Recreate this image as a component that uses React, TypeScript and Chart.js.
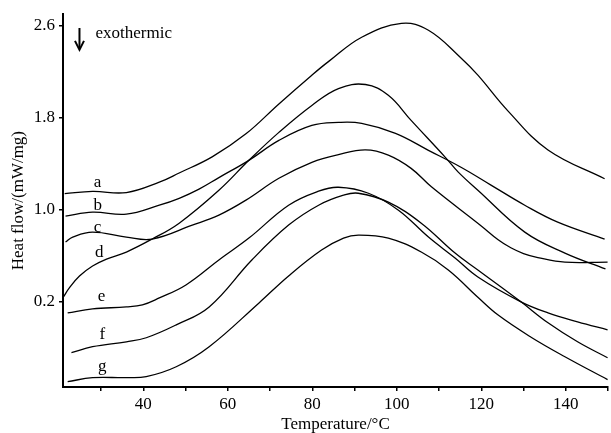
import React, { useEffect, useRef } from "react";
import { Chart, registerables } from "chart.js";

Chart.register(...registerables);

// Axis ticks
const xTicks = [30, 40, 50, 60, 70, 80, 90, 100, 110, 120, 130, 140, 150];
const xLabeled = [40, 60, 80, 100, 120, 140];
const yTicks = [0.2, 1.0, 1.8, 2.6];

// Curve a
const aT = [21.4, 28.0, 36.0, 43.8, 48.5, 56.3, 64.3, 72.1, 79.9, 83.9, 91.7, 101.1, 107.5, 115.2, 119.2, 126.3, 135.8, 149.2];
const aV = [1.14, 1.16, 1.15, 1.24, 1.32, 1.46, 1.66, 1.92, 2.17, 2.29, 2.50, 2.62, 2.56, 2.32, 2.17, 1.86, 1.52, 1.27];
// Curve b
const bT = [21.6, 28.0, 36.0, 43.8, 48.5, 53.2, 57.9, 65.0, 72.1, 79.9, 86.2, 91.7, 99.7, 107.5, 115.2, 122.3, 130.3, 138.1, 149.2];
const bV = [0.945, 0.98, 0.962, 1.04, 1.10, 1.18, 1.28, 1.43, 1.603, 1.733, 1.759, 1.751, 1.664, 1.517, 1.37, 1.215, 1.04, 0.893, 0.746];
// Curve c
const cT = [21.6, 23.3, 28.0, 36.0, 42.1, 51.6, 57.9, 64.3, 72.1, 79.9, 86.2, 92.6, 98.0, 103.4, 108.2, 120.0, 124.0, 127.0, 130.0, 133.4, 139.8, 149.9];
const cV = [0.72, 0.763, 0.806, 0.763, 0.746, 0.867, 0.954, 1.084, 1.274, 1.413, 1.48, 1.52, 1.475, 1.36, 1.20, 0.86, 0.74, 0.67, 0.62, 0.585, 0.545, 0.546];
// Curve d
const dT = [21.1, 22.5, 24.9, 28.0, 31.3, 36.0, 42.1, 48.5, 57.9, 65.0, 72.1, 79.9, 86.2, 92.6, 98.0, 103.4, 111.5, 114.5, 119.2, 130.3, 139.8, 149.4];
const dV = [0.243, 0.321, 0.425, 0.512, 0.572, 0.633, 0.746, 0.884, 1.17, 1.43, 1.673, 1.907, 2.054, 2.089, 1.995, 1.777, 1.456, 1.33, 1.17, 0.806, 0.624, 0.486];
// Curve e
const eT = [22.1, 28.0, 36.0, 39.8, 43.8, 50.1, 57.9, 65.0, 74.4, 81.5, 86.2, 93.3, 100.4, 107.5, 113.8, 119.2, 129.4, 135.8, 142.8, 149.9];
const eV = [0.104, 0.139, 0.156, 0.174, 0.234, 0.347, 0.564, 0.754, 1.04, 1.162, 1.196, 1.144, 0.997, 0.763, 0.581, 0.416, 0.2, 0.104, 0.026, -0.043];
// Curve f
const fT = [23.0, 28.0, 36.0, 40.7, 47.8, 55.6, 65.7, 74.4, 81.5, 87.4, 90.9, 98.0, 105.8, 113.8, 119.2, 129.4, 135.8, 142.8, 149.9];
const fV = [-0.242, -0.19, -0.147, -0.112, 0.0, 0.156, 0.564, 0.867, 1.04, 1.127, 1.144, 1.066, 0.884, 0.624, 0.477, 0.2, 0.018, -0.147, -0.286];
// Curve g
const gT = [22.1, 28.0, 36.0, 40.7, 47.8, 55.6, 67.4, 74.4, 82.2, 87.4, 90.9, 98.0, 105.8, 112.2, 119.2, 124.0, 131.7, 139.8, 149.9];
const gV = [-0.494, -0.459, -0.459, -0.45, -0.364, -0.19, 0.191, 0.425, 0.65, 0.754, 0.78, 0.754, 0.633, 0.477, 0.24, 0.085, -0.105, -0.277, -0.476];

// Curve labels (position in data units)
const labelNames = ["a", "b", "c", "d", "e", "f", "g"];
const labelT = [29.2, 29.2, 29.2, 29.6, 30.1, 30.3, 30.3];
const labelV = [1.24, 1.04, 0.85, 0.633, 0.243, -0.086, -0.364];

// Annotation "exothermic"
const arrowT = 24.9;
const arrowTop = 2.58;
const arrowBottom = 2.39;
const exoT = 28.7;
const exoV = 2.53;

const FONT = '"Liberation Serif", "Times New Roman", serif';

export default function App() {
  const ref = useRef<HTMLCanvasElement>(null);

  useEffect(() => {
    const canvas = ref.current;
    if (!canvas) return;
    const series = [
      [aT, aV], [bT, bV], [cT, cV], [dT, dV], [eT, eV], [fT, fV], [gT, gV],
    ];
    const datasets = series.map(([t, v], i) => ({
      label: labelNames[i],
      data: t.map((x, k) => ({ x, y: v[k] })),
      borderColor: "#000",
      borderWidth: 1.3,
      pointRadius: 0,
      fill: false,
      tension: 0.4,
    }));

    const annot = {
      id: "annot",
      afterDatasetsDraw(chart: any) {
        const { ctx, scales } = chart;
        const x = scales.x;
        const y = scales.y;
        ctx.save();
        ctx.fillStyle = "#000";
        ctx.strokeStyle = "#000";
        ctx.font = `17px ${FONT}`;
        ctx.textAlign = "center";
        ctx.textBaseline = "middle";
        labelNames.forEach((n, i) => {
          ctx.fillText(n, x.getPixelForValue(labelT[i]), y.getPixelForValue(labelV[i]));
        });
        // arrow
        const ax = x.getPixelForValue(arrowT);
        const ay1 = y.getPixelForValue(arrowTop);
        const ay2 = y.getPixelForValue(arrowBottom);
        ctx.lineWidth = 2;
        ctx.beginPath();
        ctx.moveTo(ax, ay1);
        ctx.lineTo(ax, ay2 - 1);
        ctx.stroke();
        ctx.beginPath();
        ctx.moveTo(ax - 4.5, ay2 - 9);
        ctx.lineTo(ax, ay2);
        ctx.lineTo(ax + 4.5, ay2 - 9);
        ctx.stroke();
        ctx.textAlign = "left";
        ctx.fillText("exothermic", x.getPixelForValue(exoT), y.getPixelForValue(exoV));
        ctx.restore();
      },
    };

    const chart = new Chart(canvas, {
      type: "line",
      data: { datasets },
      plugins: [annot],
      options: {
        animation: false,
        responsive: false,
        maintainAspectRatio: false,
        layout: { padding: { top: 13, right: 1, left: 0, bottom: 0 } },
        plugins: {
          legend: { display: false },
          tooltip: { enabled: false },
        },
        scales: {
          x: {
            type: "linear",
            min: 21,
            max: 150,
            afterBuildTicks: (s: any) => {
              s.ticks = xTicks.map((v) => ({ value: v }));
            },
            afterFit: (s: any) => {
              s.height = 46;
            },
            ticks: {
              autoSkip: false,
              maxRotation: 0,
              padding: 3,
              color: "#000",
              font: { family: FONT, size: 17 },
              callback: (v: any) => (xLabeled.includes(Number(v)) ? String(v) : ""),
            },
            grid: {
              display: true,
              drawOnChartArea: false,
              drawTicks: true,
              tickLength: 4,
              color: "#000",
              lineWidth: 1.5,
            },
            border: { display: true, color: "#000", width: 2 },
            title: {
              display: true,
              text: "Temperature/°C",
              color: "#000",
              font: { family: FONT, size: 17, lineHeight: 1 },
              padding: { top: 0, bottom: 0 },
            },
          },
          y: {
            type: "linear",
            min: -0.54,
            max: 2.7,
            afterBuildTicks: (s: any) => {
              s.ticks = yTicks.map((v) => ({ value: v }));
            },
            afterFit: (s: any) => {
              s.width = 63;
            },
            ticks: {
              autoSkip: false,
              padding: 4,
              color: "#000",
              font: { family: FONT, size: 17 },
              callback: (v: any) => Number(v).toFixed(1),
            },
            grid: {
              display: true,
              drawOnChartArea: false,
              drawTicks: true,
              tickLength: 4,
              color: "#000",
              lineWidth: 1.5,
            },
            border: { display: true, color: "#000", width: 2 },
            title: {
              display: true,
              text: "Heat flow/(mW/mg)",
              color: "#000",
              font: { family: FONT, size: 17, lineHeight: 1 },
              padding: { top: 10, bottom: 0 },
            },
          },
        },
      },
    });
    return () => chart.destroy();
  }, []);

  return (
    <div style={{ position: "fixed", left: 0, top: 0, width: 611, height: 433, background: "#fff" }}>
      <canvas ref={ref} width={611} height={433} style={{ display: "block" }} />
    </div>
  );
}
